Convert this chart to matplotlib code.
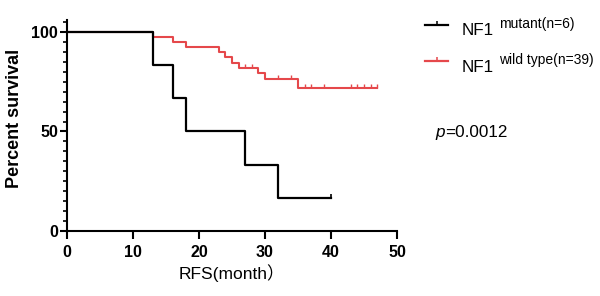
import numpy as np
import matplotlib
matplotlib.use("Agg")
import matplotlib.pyplot as plt
from matplotlib.lines import Line2D
from matplotlib.ticker import MultipleLocator

plt.rcParams['font.family'] = ['Liberation Sans', 'Noto Sans CJK SC', 'DejaVu Sans']

# ---- data ----
mut_times = [0, 13, 16, 18, 27, 32, 40]
mut_surv = [100, 83.3, 66.7, 50.0, 33.3, 16.7, 16.7]
mut_censor = [40]

wt_times = [0, 13, 16, 18, 23, 24, 25, 26, 29, 30, 35, 47]
wt_surv = [100, 97.4, 94.9, 92.3, 89.7, 87.2, 84.6, 82.1, 79.3, 76.6, 71.8, 71.8]
wt_censor = [27, 28, 32, 34, 36, 37, 39, 43, 44, 45, 46, 47]

x_ticks = [0, 10, 20, 30, 40, 50]
y_ticks = [0, 50, 100]
legend_labels = ["mutant(n=6)", "wild type(n=39)"]
p_value = "0.0012"

BLACK = "#000000"
RED = "#E5484B"

W, H = 600, 296
fig = plt.figure(figsize=(W / 100, H / 100), dpi=100)


def px(x, y):
    return x / W, 1 - y / H


ax = fig.add_axes([67 / W, (H - 231) / H, 330 / W, (231 - 20) / H])


def surv_at(times, surv, t):
    idx = np.searchsorted(times, t, side='right') - 1
    return np.asarray(surv)[idx]


# wild type (drawn first, black on top)
ax.step(wt_times, wt_surv, where='post', color=RED, lw=1.5, zorder=3)
ax.plot(wt_censor, surv_at(wt_times, wt_surv, wt_censor), ls='none', marker=2,
        ms=3, mew=1.0, color=RED, zorder=3, clip_on=False)

ax.step(mut_times, mut_surv, where='post', color=BLACK, lw=1.6, zorder=4)
ax.plot(mut_censor, surv_at(mut_times, mut_surv, mut_censor), ls='none', marker=2,
        ms=3, mew=1.2, color=BLACK, zorder=4, clip_on=False)

ax.set_xlim(0, 50)
ax.set_ylim(0, 106)
ax.set_xticks(x_ticks)
ax.set_yticks(y_ticks)
ax.yaxis.set_minor_locator(MultipleLocator(5))
for s in ['top', 'right']:
    ax.spines[s].set_visible(False)
for s in ['left', 'bottom']:
    ax.spines[s].set_linewidth(1.5)
ax.tick_params(axis='both', which='major', width=1.5, direction='out')
ax.tick_params(axis='y', which='major', length=5, pad=1.5, labelsize=11.5)
ax.tick_params(axis='y', which='minor', length=3, width=1.2)
ax.tick_params(axis='x', which='major', length=6, pad=4, labelsize=11.5)
for lab in ax.get_xticklabels() + ax.get_yticklabels():
    lab.set_fontweight('bold')

ax.set_xlabel("RFS(month）", fontsize=12.5, labelpad=3)
fig.text(*px(14.5, 118), "Percent survival", rotation=90, fontsize=13,
         fontweight='bold', ha='center', va='center')

# legend (manual)
rows = [(25, 35, 28, BLACK), (61, 72, 64, RED)]
for (ly, base, sbase, col), lab in zip(rows, legend_labels):
    x0, y0 = px(425, ly)
    x1, _ = px(448, ly)
    fig.add_artist(Line2D([x0, (x0 + x1) / 2, x1], [y0, y0, y0], color=col,
                          lw=1.6, marker=2, ms=3, mew=1.1, markevery=[1],
                          transform=fig.transFigure))
    fig.text(*px(462, base), "NF1", fontsize=12.3, va='baseline', ha='left')
    fig.text(*px(499, sbase), lab, fontsize=10, va='baseline', ha='left')

fig.text(*px(435, 137), "p", fontsize=12.3, style='italic', va='baseline', ha='left')
fig.text(*px(445.5, 137), "=" + p_value, fontsize=12.3, va='baseline', ha='left')

fig.savefig("out.png", dpi=100)
